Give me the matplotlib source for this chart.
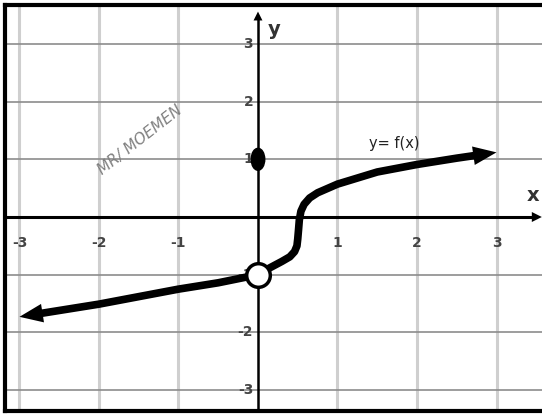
import numpy as np
import matplotlib

matplotlib.use("Agg")
import matplotlib.pyplot as plt
from matplotlib.patches import Ellipse

# left branch: x -> -inf, ends in the open circle at (0, -1)
left_x = [-3.0, -2.5, -2.0, -1.5, -1.0, -0.5, 0.0]
left_y = [-1.73, -1.62, -1.51, -1.38, -1.25, -1.14, -1.0]

# right branch: from the open circle, steep rise near x = 0.5
right_x = [0.0, 0.15, 0.3, 0.4, 0.46, 0.49, 0.5, 0.51, 0.52, 0.54, 0.58, 0.65, 0.75, 1.0, 1.5, 2.0, 2.5, 3.0]
right_y = [-1.0, -0.88, -0.77, -0.69, -0.6, -0.5, -0.38, -0.22, -0.05, 0.1, 0.22, 0.33, 0.42, 0.57, 0.78, 0.91, 1.02, 1.12]

open_pt = (0.0, -1.0)
closed_pt = (0.0, 1.0)

x_ticks = [-3, -2, -1, 1, 2, 3]
y_ticks = [3, 2, 1, -1, -2, -3]

fig = plt.figure(figsize=(5.42, 4.17), dpi=100)
ax = fig.add_axes([5 / 542, 6 / 417, 547 / 542, 406 / 417])
ax.set_xlim(-3.182, 3.698)
ax.set_ylim(-3.362, 3.674)
ax.set_xticks([])
ax.set_yticks([])
for s in ax.spines.values():
    s.set_linewidth(3)

# grid
for gx in range(-3, 4):
    if gx != 0:
        ax.axvline(gx, color="#cfcfcf", lw=2.2, zorder=0)
for gy in range(-3, 4):
    if gy != 0:
        ax.axhline(gy, color="#8c8c8c", lw=1.2, zorder=0)

# axes with arrows
ax.plot([-3.3, 3.5], [0, 0], color="k", lw=2.2, zorder=1)
ax.annotate("", xy=(3.57, 0), xytext=(3.4, 0),
            arrowprops=dict(arrowstyle="-|>", color="k", lw=0, mutation_scale=18,
                            shrinkA=0, shrinkB=0),
            annotation_clip=False)
ax.plot([0, 0], [-3.5, 3.45], color="k", lw=1.8, zorder=1)
ax.annotate("", xy=(0, 3.56), xytext=(0, 3.35),
            arrowprops=dict(arrowstyle="-|>", color="k", lw=0, mutation_scale=16,
                            shrinkA=0, shrinkB=0))

# tick labels
for t in x_ticks:
    ax.text(t, -0.45, str(t), ha="center", va="center", fontsize=10,
            color="#444444", fontweight="bold")
for t in y_ticks:
    ax.text(-0.06, t, str(t), ha="right", va="center", fontsize=10,
            color="#444444", fontweight="bold")

ax.text(0.2, 3.25, "y", fontsize=14, fontweight="bold", color="#333333",
        ha="center", va="center")
ax.text(3.46, 0.38, "x", fontsize=14, fontweight="bold", color="#333333",
        ha="center", va="center")


def branch(xs, ys, tip_end):
    # thick curve, stopping under a filled arrowhead at one end
    xs = list(xs)
    ys = list(ys)
    if tip_end == 0:
        xs, ys = xs[::-1], ys[::-1]
    tip = (xs[-1], ys[-1])
    prev = (xs[-2], ys[-2])
    stop = (tip[0] + 0.55 * (prev[0] - tip[0]), tip[1] + 0.55 * (prev[1] - tip[1]))
    ax.plot(xs[:-1] + [stop[0]], ys[:-1] + [stop[1]], color="k", lw=5.5,
            solid_capstyle="butt", solid_joinstyle="round", zorder=3)
    ax.annotate("", xy=tip, xytext=prev,
                arrowprops=dict(arrowstyle="-|>,head_length=0.6,head_width=0.24",
                                color="k", lw=0, mutation_scale=28,
                                shrinkA=0, shrinkB=0),
                zorder=3)


branch(left_x, left_y, 0)
branch(right_x, right_y, 1)

ax.plot(*open_pt, "o", ms=17, mfc="white", mec="k", mew=2.5, zorder=5)
ax.add_patch(Ellipse(closed_pt, 0.17, 0.38, color="k", zorder=5))

ax.text(1.72, 1.28, "y= f(x)", fontsize=10.5, color="#222222", ha="center", va="center")
ax.text(-1.48, 1.33, "MR/ MOEMEN", fontsize=11, color="#808080", style="italic",
        rotation=38, ha="center", va="center")

fig.savefig("out.png", dpi=100)
